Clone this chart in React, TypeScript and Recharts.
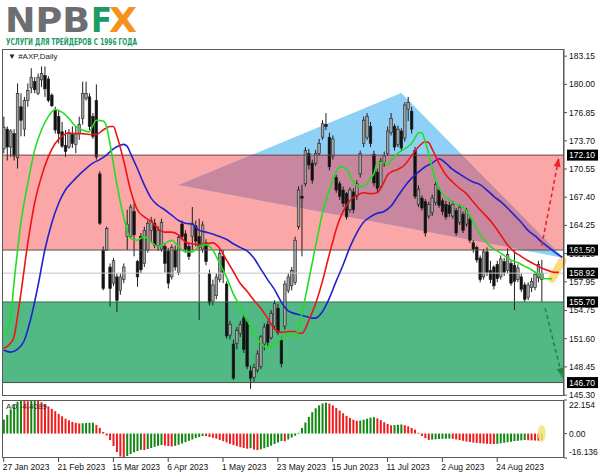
import React from 'react';
import {
  ComposedChart,
  Bar,
  Line,
  Area,
  XAxis,
  YAxis,
  ReferenceArea,
  ReferenceLine,
  ReferenceDot
} from 'recharts';

// time axis: one row per daily bar, plus empty rows for the right-hand shift
const TOTAL_ROWS = 164;
const dateTickIdx = [0, 16, 32, 48, 64, 80, 96, 112, 128, 144];
const dateLabels = ['27 Jan 2023', '21 Feb 2023', '15 Mar 2023', '6 Apr 2023', '1 May 2023', '23 May 2023', '15 Jun 2023', '11 Jul 2023', '2 Aug 2023', '24 Aug 2023'];

// #AXP daily candles
const open = [
  172.8, 175.0, 173.0, 174.5, 171.8, 177.5, 175.0, 178.2, 179.6, 180.3, 179.0, 180.5, 181.0, 180.6, 178.8, 177.1, 176.4, 174.7, 173.2, 173.0,
  174.4, 173.3, 174.5, 176.2, 178.4, 178.6, 176.4, 178.2, 170.0, 161.5, 161.5, 159.6, 157.8, 158.5, 157.0, 158.2, 163.0, 163.0, 165.8, 160.2,
  163.0, 160.0, 161.5, 163.7, 164.5, 162.0, 161.6, 161.9, 161.4, 158.5, 161.5, 159.0, 164.4, 163.3, 161.9, 163.0, 164.2, 163.0, 161.6, 162.3,
  158.9, 155.8, 156.4, 158.2, 160.8, 157.7, 152.0, 151.0, 151.1, 152.2, 153.9, 153.5, 148.0, 147.3, 148.1, 148.5, 151.0, 153.2, 151.7, 153.0,
  155.0, 151.4, 153.0, 157.0, 157.5, 157.9, 164.1, 167.5, 168.9, 172.3, 171.2, 171.2, 172.3, 174.1, 175.5, 174.1, 172.0, 169.6, 168.9, 168.2,
  167.8, 166.0, 168.0, 167.5, 170.0, 173.4, 174.1, 175.3, 172.2, 170.2, 168.6, 171.4, 172.3, 174.6, 175.3, 173.3, 174.8, 174.0, 177.2, 177.0,
  172.6, 166.6, 167.3, 166.9, 165.3, 165.7, 166.8, 168.2, 167.0, 166.6, 166.5, 165.3, 165.9, 164.6, 165.5, 164.4, 164.9, 162.3, 161.8, 160.6,
  158.5, 161.3, 159.2, 159.6, 159.9, 158.5, 160.2, 159.2, 160.0, 159.8, 158.2, 158.5, 157.6, 156.2, 157.3, 157.3, 158.4, 158.2
];
const high = [
  176.4, 175.3, 175.0, 175.0, 180.1, 179.0, 178.6, 180.1, 181.8, 180.8, 181.2, 182.0, 182.0, 180.9, 179.0, 177.5, 177.1, 175.8, 174.9, 175.0,
  175.3, 175.3, 176.4, 180.3, 180.3, 179.0, 176.8, 180.0, 170.3, 161.9, 164.1, 160.0, 160.6, 158.9, 158.9, 160.0, 166.0, 166.6, 166.7, 160.4,
  163.4, 164.1, 164.8, 165.2, 165.0, 164.2, 165.0, 162.2, 161.7, 162.1, 162.0, 163.2, 164.8, 163.7, 162.2, 166.3, 164.8, 165.0, 164.7, 162.7,
  159.3, 158.2, 158.9, 161.5, 161.5, 158.0, 153.6, 151.5, 152.9, 153.6, 154.2, 153.8, 148.6, 148.8, 150.3, 152.0, 153.3, 153.6, 154.8, 155.9,
  155.5, 151.8, 158.1, 158.9, 159.6, 163.0, 168.6, 168.8, 173.0, 172.8, 171.6, 172.7, 173.9, 176.0, 176.8, 174.6, 174.3, 169.9, 169.2, 168.6,
  168.0, 168.5, 168.4, 169.3, 172.6, 176.4, 176.8, 175.8, 172.6, 170.6, 171.8, 172.5, 175.3, 176.8, 175.6, 175.4, 175.1, 178.0, 178.6, 177.5,
  173.0, 168.7, 167.6, 167.2, 166.9, 167.7, 169.2, 168.5, 167.3, 167.0, 166.9, 167.0, 166.2, 166.6, 165.8, 166.2, 165.2, 162.6, 162.0, 160.9,
  161.6, 161.8, 160.3, 159.8, 160.3, 160.9, 160.6, 161.7, 160.3, 161.5, 159.9, 158.9, 157.9, 157.9, 158.4, 159.1, 160.3, 160.4
];
const low = [
  172.3, 171.5, 171.9, 171.5, 170.6, 174.2, 174.2, 177.5, 179.0, 179.0, 178.8, 179.7, 178.6, 178.0, 177.5, 174.5, 173.4, 172.9, 171.9, 172.8,
  172.9, 172.3, 173.8, 175.5, 178.2, 174.9, 173.9, 171.6, 164.3, 157.0, 161.4, 155.2, 157.5, 154.6, 156.5, 157.8, 161.5, 162.9, 160.8, 157.4,
  158.9, 159.6, 161.2, 162.4, 161.7, 161.4, 161.3, 159.0, 157.2, 158.2, 159.2, 158.7, 162.6, 161.2, 160.4, 161.5, 161.9, 153.7, 161.2, 159.8,
  155.3, 155.3, 156.0, 157.9, 157.8, 151.6, 151.5, 147.0, 150.4, 151.8, 150.0, 148.2, 146.0, 146.8, 147.8, 148.2, 150.3, 150.8, 151.5, 152.7,
  152.0, 148.4, 152.6, 156.7, 157.0, 157.6, 163.8, 160.8, 168.6, 170.5, 168.9, 170.9, 172.0, 173.8, 174.9, 170.4, 171.6, 167.9, 167.1, 166.3,
  164.9, 165.7, 165.6, 167.1, 169.6, 173.0, 173.8, 173.0, 168.6, 167.9, 168.3, 170.8, 172.0, 174.3, 172.6, 173.0, 172.5, 173.6, 175.9, 174.5,
  167.2, 166.3, 165.9, 163.0, 165.0, 165.3, 166.5, 166.2, 165.4, 164.9, 165.2, 165.0, 163.1, 164.3, 163.4, 164.1, 162.3, 161.2, 160.1, 157.9,
  158.2, 158.6, 157.8, 157.1, 157.9, 158.2, 158.6, 158.9, 157.5, 154.8, 157.9, 156.8, 155.7, 155.9, 156.8, 157.0, 157.9, 155.7
];
const close = [
  175.2, 173.0, 174.8, 172.0, 179.0, 176.0, 178.2, 179.3, 180.8, 179.4, 180.8, 181.2, 179.5, 178.2, 177.6, 174.9, 174.5, 173.1, 172.5, 174.5,
  173.4, 174.5, 175.5, 179.0, 179.0, 175.3, 174.2, 171.9, 164.5, 157.2, 163.9, 157.2, 160.3, 155.9, 158.5, 159.6, 164.4, 166.3, 163.2, 158.5,
  159.3, 163.7, 164.5, 164.8, 162.0, 163.7, 164.6, 160.0, 157.8, 161.8, 159.6, 162.9, 163.0, 161.6, 160.8, 164.5, 162.5, 161.8, 164.3, 160.2,
  155.6, 157.6, 158.5, 161.1, 159.0, 151.9, 153.2, 147.2, 152.5, 153.2, 150.4, 148.5, 147.2, 148.4, 149.9, 151.8, 152.9, 151.2, 154.4, 155.5,
  152.3, 148.8, 157.7, 158.5, 159.2, 162.6, 168.2, 167.3, 172.6, 171.0, 169.3, 172.3, 173.4, 175.6, 175.3, 170.8, 173.9, 168.2, 167.5, 166.7,
  165.2, 168.2, 166.0, 168.9, 172.3, 176.0, 176.4, 173.4, 169.0, 168.4, 171.4, 172.0, 174.8, 176.2, 173.0, 175.0, 172.9, 177.7, 178.0, 175.0,
  167.5, 168.3, 166.2, 163.4, 166.6, 167.3, 168.8, 166.5, 165.8, 165.2, 165.6, 166.6, 163.4, 166.3, 163.7, 165.9, 162.6, 161.6, 160.4, 158.2,
  161.3, 159.0, 158.2, 157.5, 158.3, 160.5, 159.0, 161.0, 157.8, 158.0, 159.5, 157.1, 156.0, 157.6, 158.0, 158.8, 159.9, 158.92
];

// Awesome Oscillator histogram
const aoValues = [
  9.2, 12.3, 16.0, 19.1, 21.0, 21.8, 21.5, 21.3, 21.6, 22.154, 21.5, 20.7, 19.4, 17.9, 16.3, 14.8, 13.0, 11.4, 9.8, 8.7,
  7.7, 7.1, 6.7, 6.8, 7.0, 7.1, 7.2, 5.7, 3.7, 1.0, -1.3, -4.3, -8.2, -12.2, -15.2, -16.136, -14.8, -13.5, -12.4, -11.5,
  -10.7, -10.9, -10.2, -9.5, -8.7, -8.1, -7.6, -8.0, -8.3, -8.5, -8.1, -7.4, -6.6, -5.7, -4.8, -3.9, -3.0, -2.3, -1.6, -1.7,
  -2.3, -2.8, -3.4, -4.2, -5.0, -5.9, -6.8, -7.6, -8.3, -9.0, -9.5, -10.0, -9.7, -10.6, -10.9, -10.4, -9.7, -8.9, -8.0, -6.9,
  -5.9, -4.9, -5.1, -3.9, -2.6, -1.4, 0.5, 3.7, 7.3, 11.0, 14.1, 16.7, 18.6, 19.9, 20.4, 19.8, 18.6, 16.9, 15.2, 13.4,
  11.7, 10.3, 9.2, 8.4, 8.6, 9.2, 9.8, 10.5, 10.8, 10.0, 8.9, 7.5, 6.3, 5.4, 5.6, 5.8, 6.0, 5.5, 4.8, 3.7,
  2.6, 0.5, -1.6, -3.0, -4.2, -4.0, -3.8, -3.6, -3.5, -3.4, -3.3, -3.5, -3.9, -4.3, -4.8, -5.2, -5.6, -5.9, -6.2, -6.4,
  -6.6, -6.8, -6.9, -7.0, -6.8, -6.4, -6.1, -5.7, -5.4, -5.0, -4.8, -4.5, -4.3, -4.4, -4.5, -4.6, -4.7, -4.4
];

// Alligator lines, read at [bar, price]
const lips: [number, number][] = [
  [0, 151.8], [2, 154.0], [3, 157.8], [5, 164.5], [7, 168.9], [9, 172.6], [11, 174.9], [13, 176.4], [15, 177.2], [17, 176.9],
  [19, 176.2], [21, 175.3], [23, 174.9], [25, 174.7], [26, 175.4], [27, 176.0], [29, 175.9], [30, 175.3], [31, 173.4], [33, 168.9],
  [35, 165.2], [37, 162.8], [39, 162.6], [41, 163.0], [43, 162.4], [45, 161.9], [47, 162.2], [49, 162.6], [51, 161.9], [53, 161.3],
  [55, 161.3], [57, 161.9], [59, 162.1], [61, 161.5], [63, 160.0], [65, 158.5], [67, 156.6], [69, 155.2], [71, 153.7], [73, 152.2],
  [75, 151.1], [77, 150.6], [79, 150.9], [81, 151.6], [83, 152.2], [85, 151.8], [87, 154.4], [89, 158.1], [91, 161.9], [93, 165.6],
  [95, 168.2], [97, 170.2], [98, 170.8], [100, 170.6], [102, 169.1], [104, 168.6], [106, 168.9], [107, 169.5], [108, 170.0], [109, 171.2],
  [111, 171.3], [112, 171.0], [113, 171.5], [115, 172.3], [117, 172.8], [119, 173.4], [120, 174.0], [121, 174.6], [122, 174.6], [123, 173.6],
  [124, 172.3], [126, 169.3], [128, 167.8], [130, 167.1], [132, 166.6], [134, 166.3], [136, 165.4], [138, 163.9], [140, 162.8], [142, 161.9],
  [144, 161.4], [146, 160.9], [148, 160.4], [150, 160.1], [152, 159.7], [154, 159.3], [156, 158.8], [158, 158.3], [160, 158.3]
];
const teeth: [number, number][] = [
  [0, 150.5], [2, 151.1], [3, 151.8], [4, 154.0], [5, 156.6], [7, 162.2], [9, 166.7], [11, 169.7], [13, 171.9], [15, 173.4],
  [17, 174.2], [19, 174.6], [21, 174.5], [23, 174.5], [25, 174.4], [27, 174.4], [29, 174.9], [31, 175.3], [32, 175.3], [33, 174.3],
  [35, 171.5], [37, 168.2], [39, 166.0], [41, 165.2], [43, 164.7], [45, 163.9], [47, 163.5], [49, 163.5], [51, 163.2], [53, 162.4],
  [55, 162.2], [57, 162.1], [59, 162.2], [61, 162.3], [63, 161.7], [65, 160.4], [67, 159.1], [69, 157.8], [71, 156.9], [73, 155.9],
  [75, 155.0], [77, 153.9], [79, 152.7], [81, 152.3], [83, 152.4], [85, 152.4], [86, 152.2], [87, 152.2], [88, 152.7], [89, 153.6],
  [91, 155.5], [93, 158.0], [95, 161.0], [96, 162.4], [97, 163.8], [99, 165.8], [101, 167.0], [103, 167.6], [105, 167.9], [107, 167.8],
  [109, 167.9], [110, 168.4], [111, 169.1], [112, 169.9], [113, 170.2], [115, 170.5], [117, 171.0], [119, 172.0], [121, 173.0], [123, 173.6],
  [124, 173.5], [125, 172.8], [127, 171.2], [129, 169.9], [131, 169.1], [133, 168.4], [135, 167.8], [137, 166.9], [139, 166.0], [141, 165.2],
  [143, 164.3], [145, 163.2], [147, 162.1], [149, 161.3], [151, 160.8], [153, 160.3], [155, 159.9], [157, 159.5], [159, 159.2], [161, 159.0],
  [162, 159.0]
];
const jaw: [number, number][] = [
  [0, 150.3], [2, 150.1], [4, 150.4], [6, 151.4], [8, 154.0], [10, 157.5], [12, 161.5], [14, 164.5], [16, 166.7], [18, 168.2],
  [20, 169.1], [22, 169.9], [24, 170.6], [26, 171.2], [28, 171.6], [30, 172.1], [32, 172.8], [34, 173.2], [35, 173.3], [36, 173.1],
  [37, 172.3], [39, 170.6], [41, 168.8], [43, 167.3], [45, 166.5], [47, 166.0], [49, 165.4], [51, 164.8], [53, 164.5], [55, 164.4],
  [57, 163.7], [59, 163.5], [61, 163.3], [63, 163.0], [65, 162.7], [67, 162.2], [69, 161.8], [71, 161.4], [73, 160.6], [75, 159.4],
  [77, 158.2], [79, 157.1], [81, 155.7], [83, 154.7], [85, 154.4], [87, 154.2], [89, 154.0], [90, 153.9], [91, 153.9], [93, 154.6],
  [95, 156.1], [97, 158.0], [99, 159.8], [101, 161.8], [103, 163.4], [105, 164.6], [107, 165.2], [109, 165.6], [111, 165.8], [113, 166.4],
  [115, 167.5], [117, 168.6], [119, 169.5], [121, 170.2], [123, 170.8], [125, 171.2], [127, 171.7], [129, 171.2], [131, 170.5], [133, 170.0],
  [135, 169.5], [137, 169.1], [139, 168.8], [141, 168.2], [143, 167.5], [145, 166.9], [147, 166.2], [149, 165.4], [151, 164.6], [153, 163.7],
  [155, 163.1], [157, 162.4], [159, 161.8], [161, 161.2], [163, 160.7]
];

// drawing objects: triangle [bar, lower, upper], arrows and highlight [bar, price]
const triangle: [number, number, number][] = [[51, 168.75, 168.75], [116, 164.1, 179.03], [163, 160.65, 160.75]];
const upArrow: [number, number][] = [[157, 162.0], [162, 171.8]];
const downArrow: [number, number][] = [[158, 155.0], [163, 147.3]];
const glow: [number, number][] = [[160, 158.3], [163, 160.3]];

const priceTicks = [183.15, 180.0, 176.85, 173.7, 170.55, 167.4, 164.25, 161.1, 157.95, 154.75, 151.6, 148.45, 145.3];
const aoTicks = [22.154, 0, -16.136];
const sellZone = [161.5, 172.1];
const buyZone = [146.7, 155.7];
const levels = [
  { v: 172.1, color: '#6a4444' },
  { v: 161.5, color: '#555555' },
  { v: 158.92, color: '#c4c4c4' },
  { v: 155.7, color: '#3c6b52' },
  { v: 146.7, color: '#4a4a4a' }
];

const rows: any[] = Array.from({ length: TOTAL_ROWS }, (_, i) => ({ i }));
open.forEach((o, i) => {
  rows[i].o = o;
  rows[i].h = high[i];
  rows[i].l = low[i];
  rows[i].c = close[i];
  rows[i].rng = [low[i], high[i]];
  rows[i].ao = aoValues[i];
});
lips.forEach(([i, v]) => (rows[i].g = v));
teeth.forEach(([i, v]) => (rows[i].r = v));
jaw.forEach(([i, v]) => (rows[i].b = v));
triangle.forEach(([i, lo, hi]) => (rows[i].tri = [lo, hi]));
upArrow.forEach(([i, v]) => (rows[i].ua = v));
downArrow.forEach(([i, v]) => (rows[i].da = v));
glow.forEach(([i, v]) => (rows[i].hl = v));

const FONT = 'Liberation Sans, Arial, sans-serif';

const Candle = (props: any) => {
  const { x, width, y, height, payload } = props;
  if (payload == null || payload.h == null || y == null || isNaN(y)) return <g />;
  const cx = x + width / 2;
  const top = height < 0 ? y + height : y;
  const span = Math.abs(height);
  const py = (v: number) => top + ((payload.h - v) / (payload.h - payload.l || 1)) * span;
  const bull = payload.c >= payload.o;
  const y1 = py(Math.max(payload.o, payload.c));
  const y2 = py(Math.min(payload.o, payload.c));
  return (
    <g>
      <line x1={cx} x2={cx} y1={top} y2={top + span} stroke="#1e1e1e" strokeWidth={1} />
      <rect x={cx - 1.3} y={y1} width={2.6} height={Math.max(1, y2 - y1)} fill={bull ? '#a3a3a3' : '#111'} stroke="#1e1e1e" strokeWidth={0.6} />
    </g>
  );
};

const AoBar = (props: any) => {
  const { x, width, y, height, payload } = props;
  if (payload == null || payload.ao == null || y == null || isNaN(y)) return <g />;
  const k = payload.i;
  const up = k === 0 || payload.ao > aoValues[k - 1];
  const top = height < 0 ? y + height : y;
  return <rect x={x + width / 2 - 1} y={top} width={2} height={Math.max(0.6, Math.abs(height))} fill={up ? '#118811' : '#f01c1c'} />;
};

const PinkBand = (p: any) => (
  <g>
    <defs>
      <clipPath id="pinkClip">
        <rect x={p.x} y={p.y} width={p.width} height={p.height} />
      </clipPath>
    </defs>
    <rect x={p.x} y={p.y} width={p.width} height={p.height} fill="#fca7a7" />
  </g>
);

const levelTag = (text: string) => (p: any) => {
  const vb = p.viewBox || {};
  const x = (vb.x ?? 0) + (vb.width ?? 0);
  const y = vb.y ?? 0;
  return (
    <g>
      <rect x={x + 3} y={y - 5.5} width={31} height={11} fill="#000" />
      <text x={x + 5} y={y + 3.2} fill="#fff" fontSize={8.5} fontFamily={FONT}>{text}</text>
    </g>
  );
};

const arrowHead = (tip: number, color: string, fallback: number) => (p: any) => {
  if (p.payload == null || p.payload.i !== tip || p.cy == null) return <g key={p.key} />;
  let ang = fallback;
  const pts = (p.points || []).filter((q: any) => q && q.y != null);
  const k = pts.findIndex((q: any) => q.payload && q.payload.i === tip);
  if (k > 0) ang = Math.atan2(p.cy - pts[k - 1].y, p.cx - pts[k - 1].x);
  const L = 9;
  const W = 3.5;
  const bx = p.cx - L * Math.cos(ang);
  const by = p.cy - L * Math.sin(ang);
  const nx = -Math.sin(ang) * W;
  const ny = Math.cos(ang) * W;
  return <polygon key={p.key} points={`${p.cx},${p.cy} ${bx + nx},${by + ny} ${bx - nx},${by - ny}`} fill={color} />;
};

const DateTick = (p: any) => {
  const k = dateTickIdx.indexOf(p.payload.value);
  return (
    <text x={p.x - 1} y={p.y} dy={6} fontSize={8.5} fontFamily={FONT} fill="#111" textAnchor="start">
      {k >= 0 ? dateLabels[k] : ''}
    </text>
  );
};

const AoTick = (p: any) => {
  const v = p.payload.value;
  const dy = v > 20 ? 8 : v < -10 ? -3 : 3;
  const label = v === 0 ? '0.00' : v.toFixed(3);
  return (
    <text x={p.x} y={p.y + dy} fontSize={8.5} fontFamily={FONT} fill="#111" textAnchor="start">{label}</text>
  );
};

export default function App() {
  return (
    <div style={{ position: 'absolute', left: 0, top: 0, width: 600, height: 476, background: '#fff', overflow: 'hidden' }}>
      <style>{'.triClip path { clip-path: url(#pinkClip); }'}</style>

      {/* logo and chart caption */}
      <svg width={600} height={70} style={{ position: 'absolute', left: 0, top: 0 }}>
        <text x={5} y={32} fontFamily="DejaVu Sans" fontWeight={700} fontSize={34} fill="#6d6e71" textLength={85} lengthAdjust="spacingAndGlyphs">NPB</text>
        <text x={91} y={32} fontFamily="DejaVu Sans" fontWeight={700} fontSize={34} fill="#1a9a64" textLength={21} lengthAdjust="spacingAndGlyphs">F</text>
        <text x={109} y={32} fontFamily="DejaVu Sans" fontWeight={700} fontSize={34} fill="#f5921e" textLength={28} lengthAdjust="spacingAndGlyphs">X</text>
        <text x={6} y={45} fontFamily="DejaVu Sans" fontWeight={700} fontSize={8.2} fill="#1a9a64" textLength={131} lengthAdjust="spacingAndGlyphs">УСЛУГИ ДЛЯ ТРЕЙДЕРОВ С 1996 ГОДА</text>
      </svg>

      {/* price window */}
      <div style={{ position: 'absolute', left: 0, top: 0 }}>
        <ComposedChart width={600} height={400} data={rows} margin={{ top: 49, right: 0, bottom: 4, left: 2 }}>
          <XAxis dataKey="i" type="category" hide />
          <YAxis
            orientation="right"
            type="number"
            domain={[145.2, 183.95]}
            allowDataOverflow
            ticks={priceTicks}
            interval={0}
            width={36}
            tickSize={3}
            tickLine={{ stroke: '#555' }}
            axisLine={{ stroke: '#555' }}
            tick={{ fontSize: 8.5, fill: '#111', fontFamily: FONT }}
            tickFormatter={(v: number) => v.toFixed(2)}
          />
          <ReferenceArea y1={sellZone[0]} y2={sellZone[1]} shape={PinkBand} />
          <Area dataKey="tri" type="linear" connectNulls fill="#8fd1f6" fillOpacity={1} stroke="none" dot={false} activeDot={false} isAnimationActive={false} />
          <Area className="triClip" dataKey="tri" type="linear" connectNulls fill="#c8869f" fillOpacity={1} stroke="none" dot={false} activeDot={false} isAnimationActive={false} />
          <ReferenceArea y1={buyZone[0]} y2={buyZone[1]} fill="#52b985" fillOpacity={1} />
          {levels.map((lv) => (
            <ReferenceLine key={lv.v} y={lv.v} stroke={lv.color} strokeWidth={1} label={levelTag(lv.v.toFixed(2))} />
          ))}
          <Bar dataKey="rng" shape={Candle} isAnimationActive={false} />
          <Line dataKey="hl" type="linear" connectNulls stroke="#fbd674" strokeOpacity={0.9} strokeWidth={8} strokeLinecap="round" dot={false} activeDot={false} isAnimationActive={false} />
          <Line dataKey="b" type="monotone" connectNulls stroke="#2222cc" strokeWidth={1.6} dot={false} activeDot={false} isAnimationActive={false} />
          <Line dataKey="r" type="monotone" connectNulls stroke="#ee1414" strokeWidth={1.6} dot={false} activeDot={false} isAnimationActive={false} />
          <Line dataKey="g" type="monotone" connectNulls stroke="#22dd22" strokeWidth={1.6} dot={false} activeDot={false} isAnimationActive={false} />
          <Line dataKey="ua" type="linear" connectNulls stroke="#e8232a" strokeWidth={1.6} strokeDasharray="4 3" dot={arrowHead(162, '#e8232a', -1.3)} activeDot={false} isAnimationActive={false} />
          <Line dataKey="da" type="linear" connectNulls stroke="#1b8a3c" strokeWidth={1.6} strokeDasharray="4 3" dot={arrowHead(163, '#1b8a3c', 1.3)} activeDot={false} isAnimationActive={false} />
        </ComposedChart>
      </div>
      <div style={{ position: 'absolute', left: 2, top: 49, width: 562, height: 347, border: '1px solid #5a5a5a', boxSizing: 'border-box', pointerEvents: 'none' }} />
      <div style={{ position: 'absolute', left: 8, top: 52, fontFamily: FONT, fontSize: 8, color: '#222', whiteSpace: 'nowrap' }}>▼ #AXP,Daily</div>

      {/* oscillator window */}
      <div style={{ position: 'absolute', left: 0, top: 396 }}>
        <ComposedChart width={600} height={80} data={rows} margin={{ top: 4, right: 0, bottom: 0, left: 2 }}>
          <XAxis
            dataKey="i"
            type="category"
            ticks={dateTickIdx}
            interval={0}
            height={18}
            tickSize={4}
            tickLine={{ stroke: '#444' }}
            axisLine={false}
            tick={DateTick}
          />
          <YAxis
            orientation="right"
            type="number"
            domain={[-16.136, 22.154]}
            allowDataOverflow
            ticks={aoTicks}
            interval={0}
            width={36}
            tickSize={3}
            tickLine={{ stroke: '#555' }}
            axisLine={{ stroke: '#555' }}
            tick={AoTick}
          />
          <ReferenceDot x={157} y={0} r={8} shape={(p: any) => <ellipse cx={p.cx} cy={p.cy} rx={4} ry={8.5} fill="#f7e07a" opacity={0.85} />} />
          <Bar dataKey="ao" shape={AoBar} isAnimationActive={false} />
        </ComposedChart>
      </div>
      <div style={{ position: 'absolute', left: 2, top: 400, width: 562, height: 58, border: '1px solid #5a5a5a', boxSizing: 'border-box', pointerEvents: 'none' }} />
      <div style={{ position: 'absolute', left: 6, top: 402, fontFamily: FONT, fontSize: 8, color: '#333', whiteSpace: 'nowrap' }}>AO -4.4089</div>
    </div>
  );
}
